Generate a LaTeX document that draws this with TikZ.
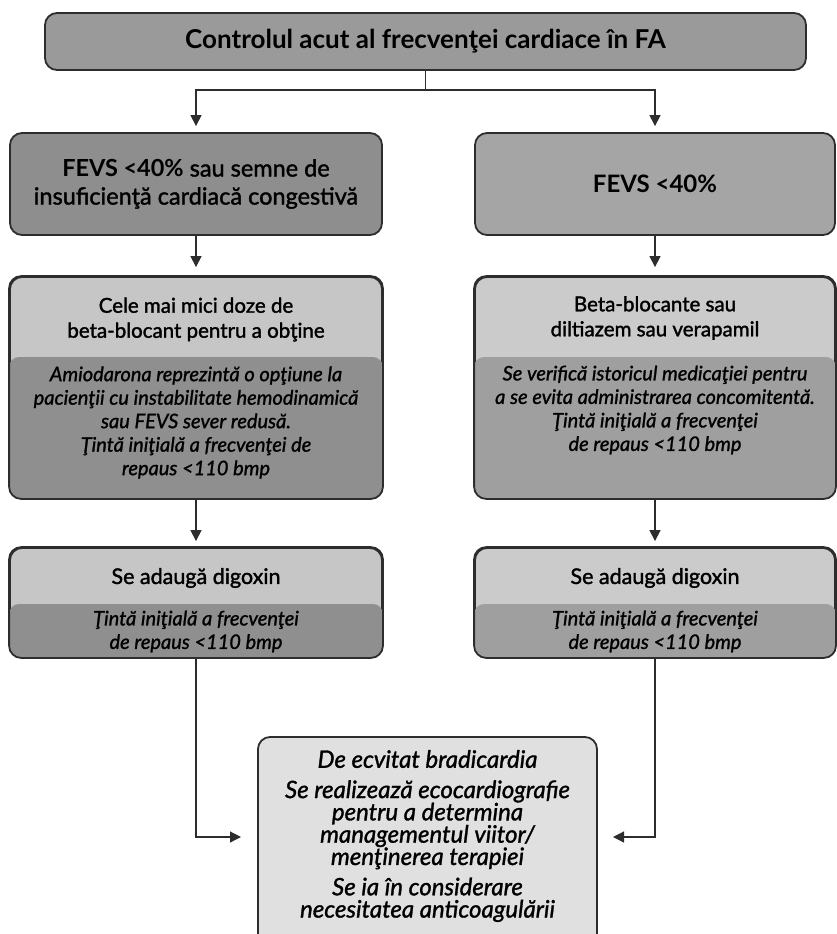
\documentclass[tikz,border=0pt]{standalone}
\usepackage{fontspec}
\setmainfont{Lato}[UprightFeatures={FakeBold=1.6},ItalicFeatures={FakeBold=1.3}]
\usetikzlibrary{arrows.meta}

\definecolor{edge}{HTML}{2D2D2D}
\definecolor{topfill}{HTML}{9A9A9A}
\definecolor{leftfill}{HTML}{8E8E8E}
\definecolor{rightfill}{HTML}{A5A5A5}
\definecolor{hiL}{HTML}{C6C6C6}
\definecolor{hiR}{HTML}{CBCBCB}
\definecolor{loL}{HTML}{8F8F8F}
\definecolor{loR}{HTML}{9F9F9F}
\definecolor{lastfill}{HTML}{E0E0E0}

\begin{document}
\begin{tikzpicture}[x=1pt,y=-1pt,
  box/.style={draw=edge,line width=1.8pt,rounded corners=12pt,inner sep=0pt},
  hdr/.style={align=center,font=\fontsize{20.5}{25}\selectfont},
  note/.style={align=center,font=\fontsize{20}{23.5}\selectfont\itshape},
  link/.style={draw=edge,line width=1.2pt},
  arr/.style={link,-{Triangle[length=11pt,width=11pt]}}]
\useasboundingbox (0,0) rectangle (837,934);

\node[box,fill=topfill,minimum width=761pt,minimum height=57pt,font=\fontsize{26}{30}\selectfont\bfseries] (top) at (425.5,41.5) {Controlul acut al frecvenţei cardiace în FA};
\node[box,fill=leftfill,minimum width=372pt,minimum height=102pt,align=center,font=\fontsize{23.5}{28}\selectfont] (fevsL) at (196,184) {\textbf{FEVS <40\%} sau semne de\\insuficienţă cardiacă congestivă};
\node[box,fill=rightfill,minimum width=360pt,minimum height=102pt,font=\fontsize{24}{28}\selectfont] (fevsR) at (655,184) {\textbf{FEVS <40\%}};

\node[box,fill=hiL,minimum width=372pt,minimum height=221pt] (betaL) at (196,387.5) {};
\node[box,fill=hiR,minimum width=360pt,minimum height=221pt] (betaR) at (655,387.5) {};
\node[box,fill=hiL,minimum width=372pt,minimum height=109pt] (digL) at (196,602.5) {};
\node[box,fill=hiR,minimum width=360pt,minimum height=109pt] (digR) at (655,602.5) {};
\node[box,fill=lastfill,minimum width=339pt,minimum height=223pt] (final) at (427.5,848.5) {};

\foreach \n/\y/\c in {betaL/357/loL,betaR/357/loR,digL/604/loL,digR/604/loR} {
  \begin{scope}
    \clip[rounded corners=12pt] (\n.south west) rectangle (\n.north east);
    \fill[\c,rounded corners=10pt] (\n.west |- 0,\y) rectangle ([yshift=-30pt]\n.south east);
  \end{scope}
  \draw[box] (\n.south west) rectangle (\n.north east);
}

\node[hdr] (betaLt) at (196,319.5) {Cele mai mici doze de\\beta-blocant pentru a obţine};
\node[note] (betaLn) at (196,422.5) {Amiodarona reprezintă o opţiune la\\pacienţii cu instabilitate hemodinamică\\sau FEVS sever redusă.\\Ţintă iniţială a frecvenţei de\\repaus <110 bmp};
\node[hdr] (betaRt) at (655,318) {Beta-blocante sau\\diltiazem sau verapamil};
\node[note] (betaRn) at (655,410) {Se verifică istoricul medicaţiei pentru\\a se evita administrarea concomitentă.\\Ţintă iniţială a frecvenţei\\de repaus <110 bmp};
\node[hdr,font=\fontsize{21.5}{25}\selectfont] (digLt) at (196,578) {Se adaugă digoxin};
\node[note] (digLn) at (196,631.5) {Ţintă iniţială a frecvenţei\\de repaus <110 bmp};
\node[hdr,font=\fontsize{21.5}{25}\selectfont] (digRt) at (655,578) {Se adaugă digoxin};
\node[note] (digRn) at (655,631.5) {Ţintă iniţială a frecvenţei\\de repaus <110 bmp};
\node[align=center,font=\fontsize{24}{22.3}\selectfont\itshape] (finalt) at (427.5,836) {De ecvitat bradicardia\\[8pt]Se realizează ecocardiografie\\pentru a determina\\managementul viitor/\\menţinerea terapiei\\[8pt]Se ia în considerare\\necesitatea anticoagulării};

\coordinate (fork) at (top.south |- 0,90);
\coordinate (inL) at (241,837);
\coordinate (inR) at (613,837);
\draw[link] (top.south) -- (fork);
\draw[arr,shorten >=6pt] (fork) -| (fevsL.north);
\draw[arr,shorten >=6pt] (fork) -| (fevsR.north);
\draw[arr,shorten >=9pt] (fevsL.south) -- (betaL.north);
\draw[arr,shorten >=9pt] (fevsR.south) -- (betaR.north);
\draw[arr,shorten >=6pt] (betaL.south) -- (digL.north);
\draw[arr,shorten >=6pt] (betaR.south) -- (digR.north);
\draw[arr] (digL.south) |- (inL);
\draw[arr] (digR.south) |- (inR);
\end{tikzpicture}
\end{document}
